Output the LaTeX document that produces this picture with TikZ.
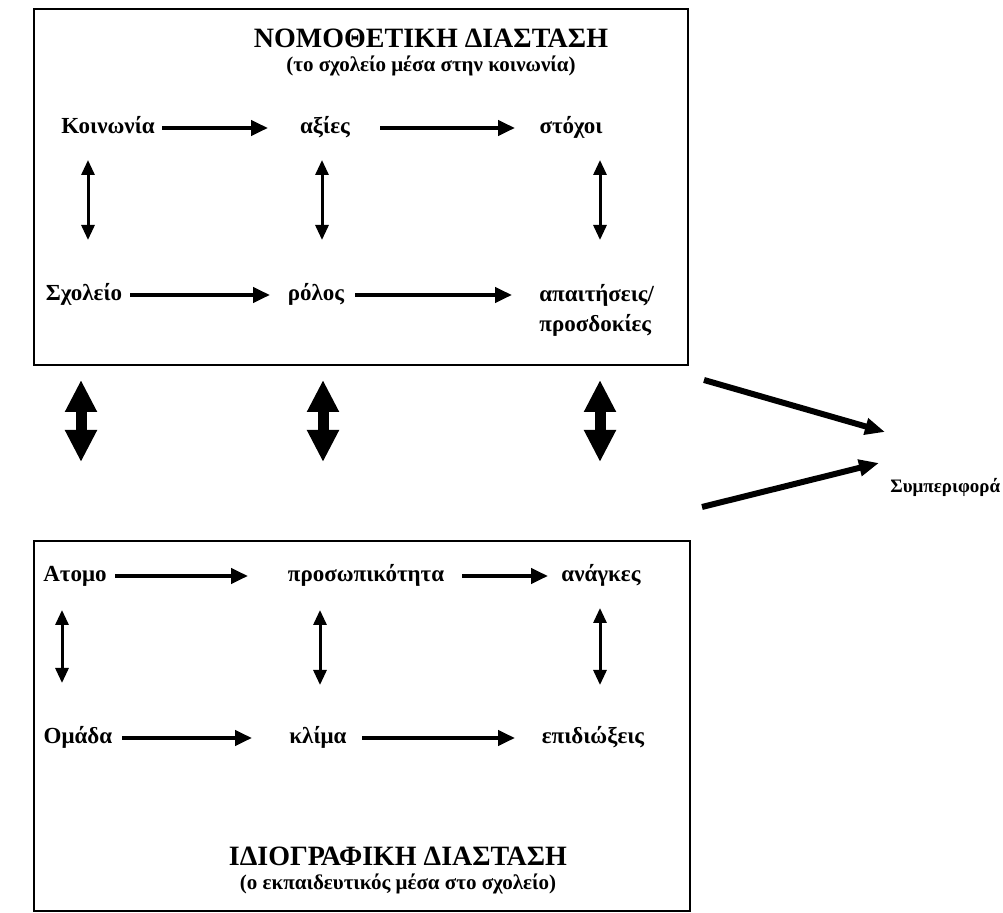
\documentclass[tikz,border=0pt]{standalone}
\usepackage{fontspec}
\setmainfont{Liberation Serif}
\usetikzlibrary{arrows.meta,calc}
\begin{document}
\begin{tikzpicture}[x=.5pt,y=-.5pt,
lbl/.style={font=\fontsize{11.5}{15}\selectfont\bfseries,inner sep=0pt,text height=8pt,text depth=2pt},
hd/.style={font=\fontsize{14}{16}\selectfont\bfseries,inner sep=0pt},
sub/.style={font=\fontsize{10.5}{12}\selectfont\bfseries,inner sep=0pt},
box/.style={draw,line width=1pt,anchor=north west,inner sep=0pt},
ar/.style={line width=2pt,-{Triangle[length=8.5pt,width=7.5pt]}},
vd/.style={line width=1.5pt,{Triangle[length=7.5pt,width=6.5pt]}-{Triangle[length=7.5pt,width=6.5pt]}},
big/.style={line width=5.5pt,{Triangle[length=16pt,width=15pt]}-{Triangle[length=16pt,width=15pt]}},
sar/.style={line width=3pt,-{Triangle[length=10pt,width=8pt]}}]
\useasboundingbox (0,0) rectangle (1003,913);
\node[box,minimum width=327pt,minimum height=178pt] (nomo) at (33,8) {};
\node[box,minimum width=328pt,minimum height=185pt] (idio) at (33,540) {};
\node[hd] (nomot) at (431,38) {ΝΟΜΟΘΕΤΙΚΗ ΔΙΑΣΤΑΣΗ};
\node[sub] (nomos) at (431,66) {(το σχολείο μέσα στην κοινωνία)};
\node[hd] (idiot) at (398,856) {ΙΔΙΟΓΡΑΦΙΚΗ ΔΙΑΣΤΑΣΗ};
\node[sub] (idios) at (398,884) {(ο εκπαιδευτικός μέσα στο σχολείο)};
\foreach \n/\X/\Y/\T in {koin/108/128/Κοινωνία,axies/325/128/αξίες,stox/571/128/στόχοι,
sxol/84/295/Σχολείο,rol/316/295/ρόλος,atom/75/576/Ατομο,pros/366/576/προσωπικότητα,
anag/601/576/ανάγκες,omad/78/738/Ομάδα,klim/318/738/κλίμα,epid/593/738/επιδιώξεις}
\node[lbl] (\n) at (\X,\Y) {\T};
\node[lbl,text height=,text depth=,align=left,anchor=north west] (apait) at (539,284) {απαιτήσεις/\\προσδοκίες};
\node[font=\fontsize{9.5}{12}\selectfont\bfseries,inner sep=0pt,anchor=west] (symp) at (890,487) {Συμπεριφορά};
\foreach \a/\b/\s/\t in {koin/axies/54/-57,axies/stox/55/-56,sxol/rol/46/-46,
atom/pros/40/-118,pros/anag/96/-53,omad/klim/44/-66,klim/epid/44/-78}
\draw[ar] ($(\a)+(\s,0)$) -- ($(\b)+(\t,0)$);
\draw[ar] ($(rol)+(39,0)$) -- ($(rol-|apait.west)+(-27,0)$);
\draw[vd] ($(koin)+(-20,32)$) -- ($(sxol)+(4,-55)$);
\draw[vd] ($(axies)+(-3,32)$) -- ($(rol)+(6,-55)$);
\draw[vd] ($(stox)+(29,32)$) -- ($(apait.north west)+(61,-44)$);
\draw[vd] ($(atom)+(-13,34)$) -- ($(omad)+(-16,-55)$);
\draw[vd] ($(pros)+(-46,34)$) -- ($(klim)+(2,-53)$);
\draw[vd] ($(anag)+(-1,32)$) -- ($(epid)+(7,-53)$);
\foreach \d in {48,290,567}
\draw[big] ($(nomo.south west)+(\d,14)$) -- ($(idio.north west)+(\d,-78)$);
\draw[sar] ($(nomo.south east)+(15,14)$) -- ($(symp.west)+(-5,-55)$);
\draw[sar] ($(idio.north east)+(11,-33)$) -- ($(symp.west)+(-11,-24)$);
\end{tikzpicture}
\end{document}
